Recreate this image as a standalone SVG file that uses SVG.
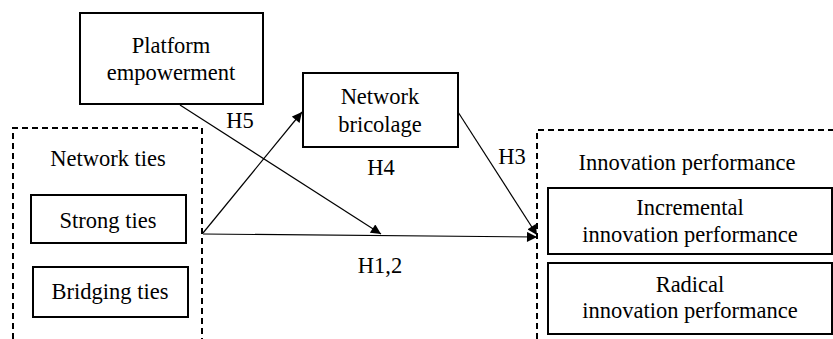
<svg xmlns="http://www.w3.org/2000/svg" width="833" height="339" viewBox="0 0 833 339">
<defs>
<style>
text{font-family:'Liberation Serif','DejaVu Serif',serif;font-size:22.5px;fill:#000;text-anchor:middle}
.box{fill:#fff;stroke:#000;stroke-width:2}
.dash{fill:none;stroke:#000;stroke-width:2;stroke-dasharray:6,4}
.con{fill:none;stroke:#000;stroke-width:1.2}
</style>
<marker id="ah" viewBox="0 0 10 10" refX="10" refY="5" markerWidth="11" markerHeight="10" markerUnits="userSpaceOnUse" orient="auto">
<path d="M0,0 L10,5 L0,10 z" fill="#000"/>
</marker>
</defs>
<rect width="833" height="339" fill="#fff"/>
<g font-family="Liberation Serif, DejaVu Serif, serif">
<g id="network-ties-group">
<path class="dash" d="M13,339 V128 H202 V339"/>
<text x="108" y="166">Network ties</text>
</g>
<g id="innovation-performance-group">
<path class="dash" d="M537,339 V130 H833"/>
<text x="687" y="170">Innovation performance</text>
</g>
<g id="platform-empowerment">
<rect class="box" x="80" y="13" width="183" height="91"/>
<text x="171" y="53">Platform</text>
<text x="171" y="80">empowerment</text>
</g>
<g id="network-bricolage">
<rect class="box" x="303" y="73" width="155" height="74"/>
<text x="380" y="104">Network</text>
<text x="380" y="132">bricolage</text>
</g>
<g id="strong-ties">
<rect class="box" x="31" y="195" width="155" height="48"/>
<text x="108" y="228">Strong ties</text>
</g>
<g id="bridging-ties">
<rect class="box" x="33" y="267" width="155" height="50"/>
<text x="110" y="299">Bridging ties</text>
</g>
<g id="incremental">
<rect class="box" x="548" y="188" width="284" height="66"/>
<text x="690" y="215">Incremental</text>
<text x="690" y="242">innovation performance</text>
</g>
<g id="radical">
<rect class="box" x="548" y="263" width="284" height="71"/>
<text x="690" y="292">Radical</text>
<text x="690" y="318">innovation performance</text>
</g>
<g id="connectors">
<line class="con" x1="203" y1="233" x2="302" y2="112" marker-end="url(#ah)"/>
<line class="con" x1="180" y1="105" x2="381" y2="234" marker-end="url(#ah)"/>
<line class="con" x1="203" y1="234" x2="537" y2="237" marker-end="url(#ah)"/>
<line class="con" x1="458" y1="112" x2="537" y2="235" marker-end="url(#ah)"/>
<text x="240" y="128">H5</text>
<text x="381" y="175">H4</text>
<text x="512" y="164">H3</text>
<text x="380" y="273">H1,2</text>
</g>
</g>
</svg>
